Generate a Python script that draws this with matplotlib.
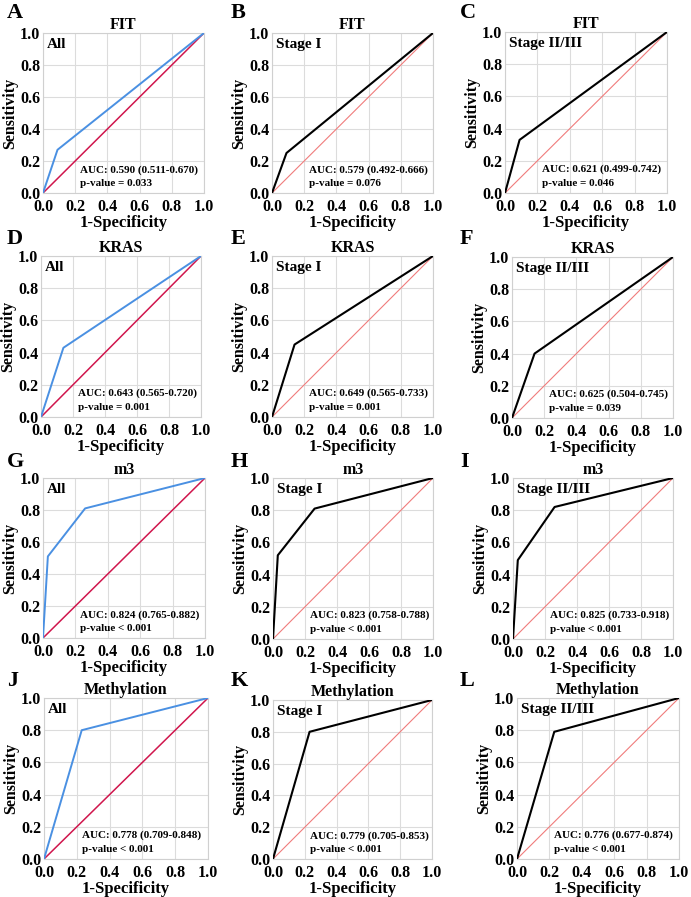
import matplotlib
matplotlib.use("Agg")
import matplotlib.pyplot as plt

plt.rcParams['font.family'] = ['Liberation Serif', 'DejaVu Serif']
plt.rcParams['font.weight'] = 'bold'

markers = ["FIT", "KRAS", "m3", "Methylation"]
subsets = ["All", "Stage I", "Stage II/III"]
letters = ["A", "B", "C", "D", "E", "F", "G", "H", "I", "J", "K", "L"]

# ROC points (1-specificity, sensitivity) per panel
fit_all_x = [0, 0.09, 1];      fit_all_y = [0, 0.27, 1]
fit_s1_x = [0, 0.09, 1];       fit_s1_y = [0, 0.25, 1]
fit_s23_x = [0, 0.09, 1];      fit_s23_y = [0, 0.33, 1]
kras_all_x = [0, 0.14, 1];     kras_all_y = [0, 0.43, 1]
kras_s1_x = [0, 0.14, 1];      kras_s1_y = [0, 0.45, 1]
kras_s23_x = [0, 0.14, 1];     kras_s23_y = [0, 0.40, 1]
m3_all_x = [0, 0.03, 0.26, 1]; m3_all_y = [0, 0.51, 0.81, 1]
m3_s1_x = [0, 0.03, 0.26, 1];  m3_s1_y = [0, 0.52, 0.81, 1]
m3_s23_x = [0, 0.03, 0.26, 1]; m3_s23_y = [0, 0.49, 0.82, 1]
meth_all_x = [0, 0.23, 1];     meth_all_y = [0, 0.80, 1]
meth_s1_x = [0, 0.23, 1];      meth_s1_y = [0, 0.80, 1]
meth_s23_x = [0, 0.23, 1];     meth_s23_y = [0, 0.79, 1]

auc_labels = ["AUC: 0.590 (0.511-0.670)", "AUC: 0.579 (0.492-0.666)", "AUC: 0.621 (0.499-0.742)",
              "AUC: 0.643 (0.565-0.720)", "AUC: 0.649 (0.565-0.733)", "AUC: 0.625 (0.504-0.745)",
              "AUC: 0.824 (0.765-0.882)", "AUC: 0.823 (0.758-0.788)", "AUC: 0.825 (0.733-0.918)",
              "AUC: 0.778 (0.709-0.848)", "AUC: 0.779 (0.705-0.853)", "AUC: 0.776 (0.677-0.874)"]
p_labels = ["p-value = 0.033", "p-value = 0.076", "p-value = 0.046",
            "p-value = 0.001", "p-value = 0.001", "p-value = 0.039",
            "p-value < 0.001", "p-value < 0.001", "p-value < 0.001",
            "p-value < 0.001", "p-value < 0.001", "p-value < 0.001"]

curves_x = [fit_all_x, fit_s1_x, fit_s23_x, kras_all_x, kras_s1_x, kras_s23_x,
            m3_all_x, m3_s1_x, m3_s23_x, meth_all_x, meth_s1_x, meth_s23_x]
curves_y = [fit_all_y, fit_s1_y, fit_s23_y, kras_all_y, kras_s1_y, kras_s23_y,
            m3_all_y, m3_s1_y, m3_s23_y, meth_all_y, meth_s1_y, meth_s23_y]

ticks = [0.0, 0.2, 0.4, 0.6, 0.8, 1.0]
tick_labels = ["0.0", "0.2", "0.4", "0.6", "0.8", "1.0"]

W, H = 691, 897
fig = plt.figure(figsize=(W / 100, H / 100), dpi=100)

# axes boxes in pixels: left, right, top, bottom
boxes = [(43, 204, 33, 193), (272, 433, 33, 193), (505, 667, 32, 193),
         (41, 201, 256, 417), (272, 433, 256, 417), (512, 673, 257, 418),
         (43, 205, 478, 638), (273, 433, 478, 639), (513, 673, 478, 639),
         (44, 208, 698, 859), (273, 432, 700, 859), (517, 679, 698, 859)]
letter_pos = [(7, 13), (231, 13), (460, 13),
              (7, 239), (231, 239), (460, 239),
              (7, 462), (231, 462), (460, 462),
              (7, 681), (231, 681), (460, 681)]

blue = "#4a90e2"
crimson = "#d0164d"
salmon = "#f07c7c"

for i in range(12):
    l, r, t, b = boxes[i]
    ax = fig.add_axes([l / W, 1 - b / H, (r - l) / W, (b - t) / H])
    col = i % 3
    row = i // 3
    if col == 0:
        ax.plot([0, 1], [0, 1], color=crimson, lw=1.1, zorder=2)
        ax.plot(curves_x[i], curves_y[i], color=blue, lw=1.4, zorder=3)
    else:
        ax.plot([0, 1], [0, 1], color=salmon, lw=0.8, zorder=2)
        ax.plot(curves_x[i], curves_y[i], color="black", lw=1.5, zorder=3)
    ax.set_xlim(0, 1)
    ax.set_ylim(0, 1)
    ax.set_xticks(ticks)
    ax.set_yticks(ticks)
    ax.set_xticklabels(tick_labels, fontsize=11.5, fontweight='bold')
    ax.set_yticklabels(tick_labels, fontsize=11.5, fontweight='bold',
                       va='center_baseline')
    ax.tick_params(axis='x', length=0, pad=4)
    ax.tick_params(axis='y', length=0, pad=2)
    ax.grid(True, color="#dcdcdc", lw=0.8)
    ax.set_axisbelow(True)
    for s in ax.spines.values():
        s.set_color("#d0d0d0")
        s.set_linewidth(0.8)
    ax.set_title(markers[row], fontsize=11.5, fontweight='bold', pad=1.5)
    ax.set_xlabel("1-Specificity", fontsize=12, fontweight='bold', labelpad=0)
    ax.set_ylabel("Sensitivity", fontsize=11.5, fontweight='bold', labelpad=1)
    ax.text(0.025, 0.93, subsets[col], transform=ax.transAxes, fontsize=11,
            fontweight='bold', va='center', ha='left')
    ax.text(0.23, 0.145, auc_labels[i], transform=ax.transAxes, fontsize=8,
            fontweight='bold', va='center', ha='left')
    ax.text(0.23, 0.06, p_labels[i], transform=ax.transAxes, fontsize=8,
            fontweight='bold', va='center', ha='left')
    lx, ly = letter_pos[i]
    fig.text(lx / W, 1 - ly / H, letters[i], fontsize=16, fontweight='bold',
             ha='left', va='center')

fig.savefig("out.png", dpi=100)
